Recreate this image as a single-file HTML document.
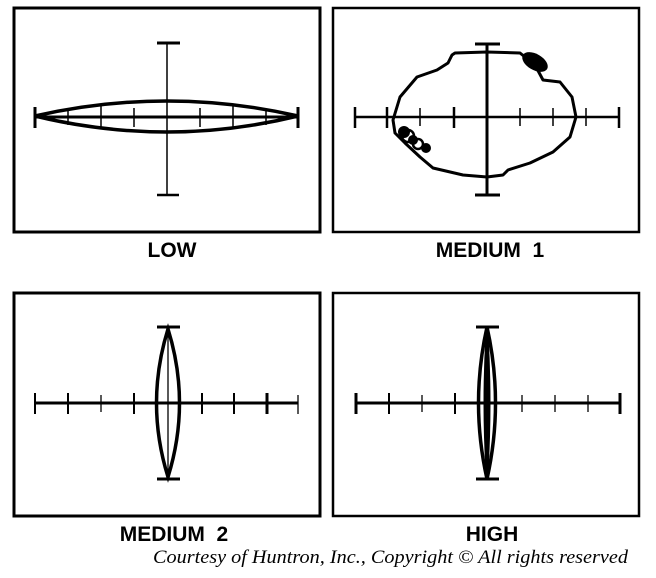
<!DOCTYPE html>
<html><head><meta charset="utf-8"><style>
html,body{margin:0;padding:0;background:#fff;}
svg{display:block;}
.lbl{font-family:"Liberation Sans",Arial,sans-serif;font-weight:bold;font-size:21px;fill:#000;}
</style></head><body>
<svg width="656" height="578" viewBox="0 0 656 578" xmlns="http://www.w3.org/2000/svg">
<g fill="none" stroke="#000">
<rect x="14" y="8" width="306" height="224" stroke-width="3"/>
<line x1="35" y1="117" x2="298" y2="117" stroke-width="3"/>
<line x1="35" y1="107" x2="35" y2="128" stroke-width="3"/>
<line x1="298" y1="107" x2="298" y2="128" stroke-width="3"/>
<g stroke-width="1.5"><line x1="68" y1="110" x2="68" y2="125"/><line x1="101" y1="106" x2="101" y2="128"/><line x1="134" y1="108" x2="134" y2="127"/><line x1="200" y1="108" x2="200" y2="127"/><line x1="233" y1="106" x2="233" y2="128"/><line x1="266" y1="110" x2="266" y2="125"/></g>
<line x1="167" y1="43" x2="167" y2="195" stroke-width="1.5"/>
<line x1="157" y1="43" x2="180" y2="43" stroke-width="3"/>
<line x1="157" y1="195" x2="179" y2="195" stroke-width="2.5"/>
<path d="M35,116 Q167,86 298,116 Q167,148 35,116 Z" stroke-width="3.5"/>
<rect x="333" y="8" width="306" height="224" stroke-width="2.5"/>
<line x1="355" y1="117" x2="619" y2="117" stroke-width="2.5"/>
<line x1="355" y1="107" x2="355" y2="128" stroke-width="2.5"/>
<line x1="619" y1="107" x2="619" y2="128" stroke-width="2.5"/>
<g stroke-width="1.5"><line x1="387" y1="107" x2="387" y2="128" stroke-width="2.5"/><line x1="420" y1="108" x2="420" y2="126"/><line x1="454" y1="107" x2="454" y2="128" stroke-width="2.5"/><line x1="520" y1="108" x2="520" y2="126"/><line x1="553" y1="108" x2="553" y2="126"/><line x1="586" y1="108" x2="586" y2="126"/></g>
<line x1="487" y1="43" x2="487" y2="196" stroke-width="3"/>
<line x1="475" y1="44" x2="500" y2="44" stroke-width="3"/>
<line x1="475" y1="195" x2="500" y2="195" stroke-width="3"/>
<path d="M455,53 L487,52 L520,53 L535,65 L543,80 L560,82 L572,97 L576,117 L570,137 L553,152 L530,163 L508,170 L503,175 L487,177 L463,175 L433,168 L420,157 L405,143 L395,133 L393,120 L400,97 L417,77 L437,70 L448,63 L452,55 Z" stroke-width="3" stroke-linejoin="round"/>
<circle cx="408" cy="136" r="6" stroke-width="2.5"/><circle cx="418" cy="144" r="5" stroke-width="2.5"/>
<g fill="#000" stroke="none">
<ellipse cx="535" cy="62" rx="14" ry="8" transform="rotate(30 535 62)"/>
<circle cx="404" cy="132" r="6"/><circle cx="413" cy="140" r="5"/><circle cx="426" cy="148" r="5"/>
</g>
<rect x="14" y="293" width="306" height="223" stroke-width="3"/>
<line x1="35" y1="403" x2="298" y2="403" stroke-width="3"/>
<g stroke-width="2"><line x1="35" y1="393" x2="35" y2="414"/><line x1="68" y1="393" x2="68" y2="414"/><line x1="101" y1="395" x2="101" y2="412" stroke-width="1.3"/><line x1="134" y1="393" x2="134" y2="414"/><line x1="202" y1="393" x2="202" y2="414"/><line x1="234" y1="393" x2="234" y2="414"/><line x1="267" y1="393" x2="267" y2="414" stroke-width="3"/><line x1="298" y1="395" x2="298" y2="414" stroke-width="1.3"/></g>
<line x1="168" y1="327" x2="168" y2="479" stroke-width="1.3"/>
<line x1="157" y1="327" x2="180" y2="327" stroke-width="3"/>
<line x1="157" y1="479" x2="180" y2="479" stroke-width="3"/>
<path d="M168,329 Q145,403 168,477 Q191,403 168,329 Z" stroke-width="3.5"/>
<rect x="333" y="293" width="306" height="223" stroke-width="2.5"/>
<line x1="356" y1="403" x2="620" y2="403" stroke-width="3"/>
<g stroke-width="2"><line x1="356" y1="393" x2="356" y2="414" stroke-width="3"/><line x1="389" y1="393" x2="389" y2="414"/><line x1="422" y1="395" x2="422" y2="412" stroke-width="1.3"/><line x1="455" y1="393" x2="455" y2="414"/><line x1="522" y1="395" x2="522" y2="412" stroke-width="1.3"/><line x1="555" y1="395" x2="555" y2="412" stroke-width="1.3"/><line x1="588" y1="395" x2="588" y2="412" stroke-width="1.3"/><line x1="620" y1="393" x2="620" y2="414" stroke-width="3"/></g>
<line x1="487" y1="327" x2="487" y2="479" stroke-width="2"/>
<line x1="476" y1="327" x2="499" y2="327" stroke-width="3"/>
<line x1="476" y1="479" x2="499" y2="479" stroke-width="3"/>
<path d="M487,327 Q470,403 487,479 Q504,403 487,327 Z" stroke-width="3.5"/>
<path d="M487,335 Q483,403 487,471 Q491,403 487,335 Z" stroke-width="3"/>
</g>
<text class="lbl" x="172" y="257" text-anchor="middle">LOW</text>
<text class="lbl" x="490" y="257" text-anchor="middle" xml:space="preserve">MEDIUM  1</text>
<text class="lbl" x="174" y="541" text-anchor="middle" xml:space="preserve">MEDIUM  2</text>
<text class="lbl" x="492" y="541" text-anchor="middle">HIGH</text>
<text x="153" y="563" font-family="'Liberation Serif',serif" font-style="italic" font-size="19" textLength="475" lengthAdjust="spacingAndGlyphs">Courtesy of Huntron, Inc., Copyright © All rights reserved</text>
</svg>
</body></html>
